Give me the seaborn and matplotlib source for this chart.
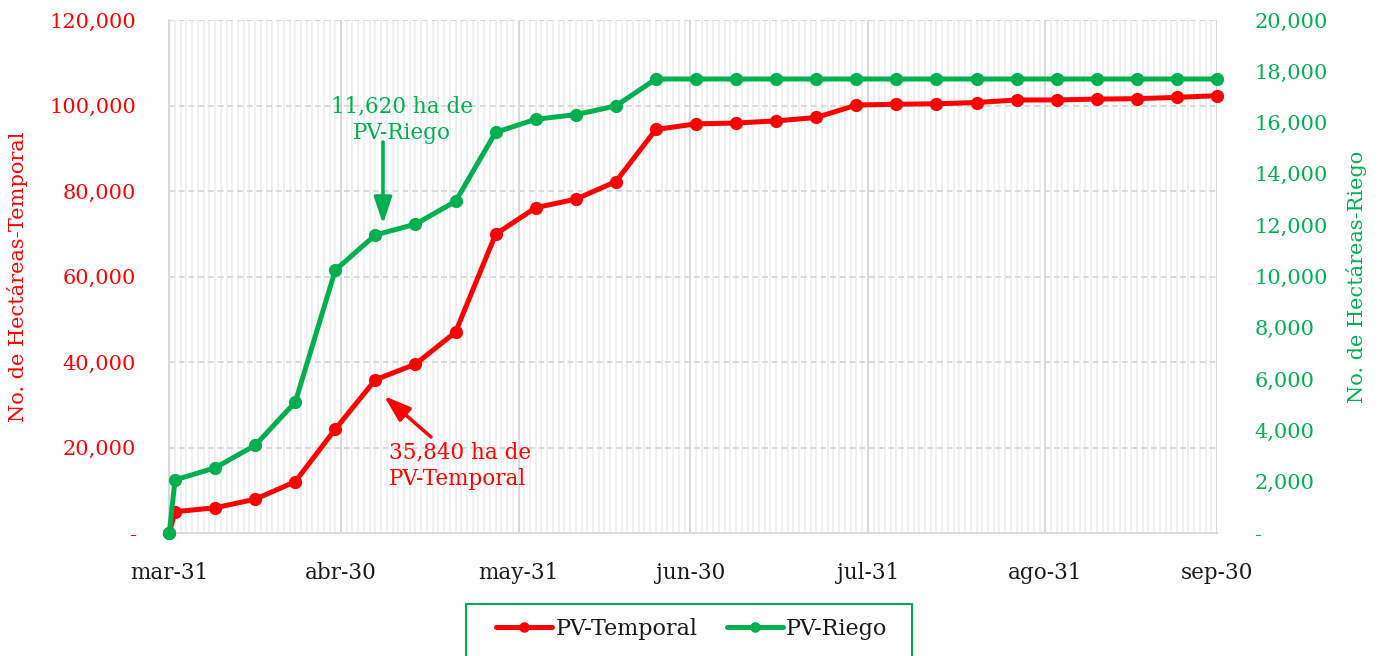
import matplotlib
matplotlib.use('Agg')
import matplotlib.pyplot as plt
import matplotlib.dates as mdates
import matplotlib.ticker as mticker
from matplotlib.patches import Rectangle
import seaborn as sns
import pandas as pd

# Datos (hectáreas acumuladas, PV)
fechas = ['2020-03-31', '2020-04-01', '2020-04-08', '2020-04-15', '2020-04-22',
          '2020-04-29', '2020-05-06', '2020-05-13', '2020-05-20', '2020-05-27',
          '2020-06-03', '2020-06-10', '2020-06-17', '2020-06-24', '2020-07-01',
          '2020-07-08', '2020-07-15', '2020-07-22', '2020-07-29', '2020-08-05',
          '2020-08-12', '2020-08-19', '2020-08-26', '2020-09-02', '2020-09-09',
          '2020-09-16', '2020-09-23', '2020-09-30']
pv_temporal = [0, 4980, 5900, 7900, 12000, 24300, 35840, 39500, 47000, 69900,
               76100, 78100, 82200, 94400, 95700, 95900, 96400, 97200, 100100, 100300,
               100400, 100700, 101300, 101300, 101500, 101600, 101900, 102300]
pv_riego = [0, 2070, 2540, 3420, 5100, 10250, 11620, 12040, 12930, 15620,
            16130, 16310, 16650, 17700, 17700, 17700, 17700, 17700, 17700, 17700,
            17700, 17700, 17700, 17700, 17700, 17700, 17700, 17700]

meses = ['2020-03-31', '2020-04-30', '2020-05-31', '2020-06-30',
         '2020-07-31', '2020-08-31', '2020-09-30']
etiquetas_mes = ['mar-31', 'abr-30', 'may-31', 'jun-30', 'jul-31', 'ago-31', 'sep-30']

ROJO = '#FF0000'
VERDE = '#00B050'
GRIS = '#d9d9d9'

sns.set_theme(style='white')
plt.rcParams['font.family'] = ['DejaVu Serif', 'DejaVu Sans']

df = pd.DataFrame({'fecha': pd.to_datetime(fechas),
                   'temporal': pv_temporal,
                   'riego': pv_riego})

W, H = 1383, 656
fig = plt.figure(figsize=(W / 100, H / 100), dpi=100)
ax = fig.add_axes([0.1224, 0.1875, 0.7576, 0.782])
ax2 = ax.twinx()

sns.lineplot(data=df, x='fecha', y='temporal', ax=ax, color=ROJO, lw=3.6,
             marker='o', ms=9.5, mec=ROJO, mew=0, clip_on=False, label='PV-Temporal')
sns.lineplot(data=df, x='fecha', y='riego', ax=ax2, color=VERDE, lw=3.6,
             marker='o', ms=9.5, mec=VERDE, mew=0, clip_on=False, label='PV-Riego')

# eje x
ax.set_xlim(pd.Timestamp(meses[0]), pd.Timestamp(meses[-1]))
ax.set_xticks(pd.to_datetime(meses))
ax.set_xticklabels(etiquetas_mes)
ax.xaxis.set_minor_locator(mdates.DayLocator())
ax.grid(which='minor', axis='x', color='#eeeeee', lw=1.2)
ax.grid(which='major', axis='x', color=GRIS, lw=1.5)
ax.set_xlabel('')

# ejes y
def contable(v, pos):
    return '-' if v == 0 else f'{v:,.0f}'

ax.set_ylim(0, 120000)
ax.set_yticks(range(0, 120001, 20000))
ax.yaxis.set_major_formatter(mticker.FuncFormatter(contable))
ax.grid(which='major', axis='y', color=GRIS, lw=1.4, ls=(0, (3, 2)))
ax2.set_ylim(0, 20000)
ax2.set_yticks(range(0, 20001, 2000))
ax2.yaxis.set_major_formatter(mticker.FuncFormatter(contable))
ax2.grid(False)

ax.tick_params(axis='x', which='major', length=6, width=1.5, color=GRIS,
               labelcolor='#1a1a1a', pad=15, labelsize=15.5)
ax.tick_params(axis='x', which='minor', length=0)
ax.tick_params(axis='y', length=0, labelcolor=ROJO, pad=24, labelsize=15)
ax2.tick_params(axis='y', length=0, labelcolor=VERDE, pad=27, labelsize=15)

for s in ['top', 'right']:
    ax.spines[s].set_visible(False)
for s in ['left', 'bottom']:
    ax.spines[s].set_color(GRIS)
    ax.spines[s].set_linewidth(1.5)
for s in ax2.spines.values():
    s.set_visible(False)

ax.set_ylabel('No. de Hectáreas-Temporal', color=ROJO, fontsize=15)
ax.yaxis.set_label_coords(-0.135, 0.5)
ax2.set_ylabel('No. de Hectáreas-Riego', color=VERDE, fontsize=15)
ax2.yaxis.set_label_coords(1.123, 0.5)

# anotaciones
def px(x, y):
    # posicion en pixeles de la figura -> fraccion de la figura
    return x / W, 1 - y / H

flecha = '-|>,head_length=1.25,head_width=0.42'
fig.text(*px(402, 120), '11,620 ha de\nPV-Riego', color=VERDE,
         fontsize=15.5, ha='center', va='center', linespacing=1.25)
ax.annotate('', xy=px(383, 224), xytext=px(383, 142), xycoords='figure fraction',
            arrowprops=dict(arrowstyle=flecha, lw=2.5, color=VERDE,
                            shrinkA=0, shrinkB=0, mutation_scale=13))
fig.text(*px(389, 466), '35,840 ha de\nPV-Temporal', color=ROJO,
         fontsize=15.5, ha='left', va='center', linespacing=1.25)
ax.annotate('', xy=px(384, 396), xytext=px(431, 437), xycoords='figure fraction',
            arrowprops=dict(arrowstyle=flecha, lw=2.5, color=ROJO,
                            shrinkA=0, shrinkB=0, mutation_scale=13))

# leyenda
h1, l1 = ax.get_legend_handles_labels()
h2, l2 = ax2.get_legend_handles_labels()
ax.get_legend().remove()
ax2.get_legend().remove()
fig.patches.append(Rectangle(px(466, 700), 446 / W, 96 / H, transform=fig.transFigure,
                             fill=False, edgecolor=VERDE, lw=1.5))
leg = fig.legend(h1 + h2, l1 + l2, loc='center', bbox_to_anchor=px(692, 629),
                 ncol=2, frameon=False, fontsize=16, borderpad=0, borderaxespad=0,
                 handlelength=2.5, handletextpad=0.15, columnspacing=1.35,
                 markerscale=0.8)
for t in leg.get_texts():
    t.set_color('#1a1a1a')

fig.savefig('out.png', dpi=100)
